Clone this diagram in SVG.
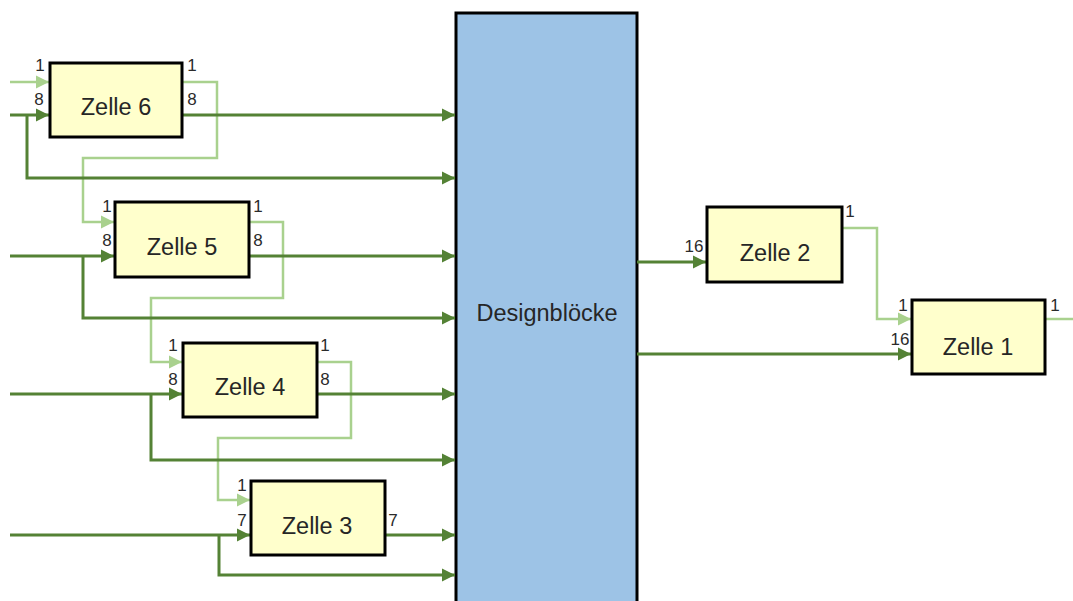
<svg xmlns="http://www.w3.org/2000/svg" width="1073" height="601" viewBox="0 0 1073 601">
  <style>
    .bus { fill: none; stroke: #548235; stroke-width: 3; }
    .bit { fill: none; stroke: #A9D18E; stroke-width: 2.5; }
    .cell { fill: #FFFFCC; stroke: #000; stroke-width: 3; }
    .block { fill: #9DC3E6; stroke: #000; stroke-width: 3; }
    .name { font-family: "Liberation Sans", Arial, sans-serif; font-size: 23.5px; fill: #262626; text-anchor: middle; }
    .port { font-family: "Liberation Sans", Arial, sans-serif; font-size: 17px; fill: #2b2b2b; text-anchor: middle; }
  </style>
  <defs>
    <marker id="arrDark" markerUnits="userSpaceOnUse" markerWidth="14" markerHeight="14" viewBox="0 0 14 14" refX="13" refY="7" orient="auto">
      <path d="M0,0.5 L13,7 L0,13.5 z" fill="#548235"/>
    </marker>
    <marker id="arrLight" markerUnits="userSpaceOnUse" markerWidth="14" markerHeight="14" viewBox="0 0 14 14" refX="13" refY="7" orient="auto">
      <path d="M0,0.5 L13,7 L0,13.5 z" fill="#A9D18E"/>
    </marker>
  </defs>

  <rect width="1073" height="601" fill="#fff"/>

  <!-- central design block -->
  <g id="designbloecke">
    <rect class="block" x="456" y="13" width="181" height="600"/>
    <text class="name" x="547" y="321">Designblöcke</text>
  </g>

  <!-- connectors -->
  <g id="connectors">
    <!-- 1-bit chain -->
    <path class="bit" d="M10,82 H49" marker-end="url(#arrLight)"/>
    <path class="bit" d="M182,82 H217 V158 H83 V222 H114" marker-end="url(#arrLight)"/>
    <path class="bit" d="M249,222 H283 V298 H151 V362 H182" marker-end="url(#arrLight)"/>
    <path class="bit" d="M317,362 H351 V438 H218 V500 H250" marker-end="url(#arrLight)"/>
    <path class="bit" d="M842,228 H877 V319 H911" marker-end="url(#arrLight)"/>
    <path class="bit" d="M1045,319 H1073"/>

    <!-- inputs to cells -->
    <path class="bus" d="M10,115 H49" marker-end="url(#arrDark)"/>
    <path class="bus" d="M10,256 H114" marker-end="url(#arrDark)"/>
    <path class="bus" d="M10,394 H182" marker-end="url(#arrDark)"/>
    <path class="bus" d="M10,535 H250" marker-end="url(#arrDark)"/>

    <!-- branches to design block -->
    <path class="bus" d="M27,115 V178 H455" marker-end="url(#arrDark)"/>
    <path class="bus" d="M83,256 V318 H455" marker-end="url(#arrDark)"/>
    <path class="bus" d="M151,394 V460 H455" marker-end="url(#arrDark)"/>
    <path class="bus" d="M219,535 V575 H455" marker-end="url(#arrDark)"/>

    <!-- cell outputs to design block -->
    <path class="bus" d="M182,115 H455" marker-end="url(#arrDark)"/>
    <path class="bus" d="M249,256 H455" marker-end="url(#arrDark)"/>
    <path class="bus" d="M317,394 H455" marker-end="url(#arrDark)"/>
    <path class="bus" d="M385,535 H455" marker-end="url(#arrDark)"/>

    <!-- design block outputs -->
    <path class="bus" d="M637,262 H706" marker-end="url(#arrDark)"/>
    <path class="bus" d="M637,354 H911" marker-end="url(#arrDark)"/>
  </g>

  <g id="zelle6">
    <rect class="cell" x="50" y="63" width="132" height="74"/>
    <text class="name" x="116" y="115">Zelle 6</text>
    <text class="port" x="40" y="71">1</text>
    <text class="port" x="39" y="105">8</text>
    <text class="port" x="192" y="71">1</text>
    <text class="port" x="192" y="105">8</text>
  </g>

  <g id="zelle5">
    <rect class="cell" x="115" y="202" width="134" height="75"/>
    <text class="name" x="182" y="255">Zelle 5</text>
    <text class="port" x="107" y="212">1</text>
    <text class="port" x="107" y="246">8</text>
    <text class="port" x="258" y="212">1</text>
    <text class="port" x="258" y="246">8</text>
  </g>

  <g id="zelle4">
    <rect class="cell" x="183" y="343" width="134" height="74"/>
    <text class="name" x="250" y="395">Zelle 4</text>
    <text class="port" x="173" y="351">1</text>
    <text class="port" x="173" y="385">8</text>
    <text class="port" x="325" y="351">1</text>
    <text class="port" x="325" y="385">8</text>
  </g>

  <g id="zelle3">
    <rect class="cell" x="251" y="481" width="134" height="74"/>
    <text class="name" x="317" y="534">Zelle 3</text>
    <text class="port" x="242" y="491">1</text>
    <text class="port" x="242" y="526">7</text>
    <text class="port" x="393" y="526">7</text>
  </g>

  <g id="zelle2">
    <rect class="cell" x="707" y="207" width="135" height="75"/>
    <text class="name" x="775" y="261">Zelle 2</text>
    <text class="port" x="694" y="252">16</text>
    <text class="port" x="850" y="217">1</text>
  </g>

  <g id="zelle1">
    <rect class="cell" x="912" y="300" width="133" height="74"/>
    <text class="name" x="978" y="355">Zelle 1</text>
    <text class="port" x="903" y="311">1</text>
    <text class="port" x="900" y="345">16</text>
    <text class="port" x="1055" y="311">1</text>
  </g>
</svg>
